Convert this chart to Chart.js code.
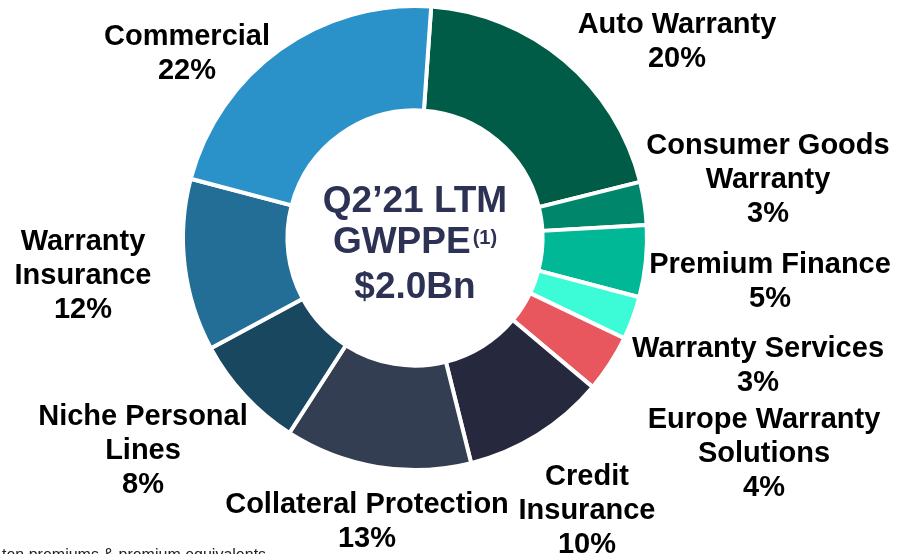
<!DOCTYPE html>
<html>
<head>
<meta charset="utf-8">
<script src="https://cdn.jsdelivr.net/npm/chart.js@4/dist/chart.umd.min.js"></script>
<style>
  body { margin: 0; background: #fff; }
  canvas { display: block; }
</style>
</head>
<body>
<canvas id="chart-gwppe" width="898" height="554"></canvas>
<script>
// segments, clockwise from the top
const segmentNames = [
  "Auto Warranty",
  "Consumer Goods\nWarranty",
  "Premium Finance",
  "Warranty Services",
  "Europe Warranty\nSolutions",
  "Credit\nInsurance",
  "Collateral Protection",
  "Niche Personal\nLines",
  "Warranty\nInsurance",
  "Commercial"
];
const segmentShares = [20, 3, 5, 3, 4, 10, 13, 8, 12, 22];
const segmentColors = [
  "#005c46", "#00876b", "#00b896", "#3cfbd7", "#e8575e",
  "#26283e", "#343e52", "#18475f", "#226e96", "#2a92c8"
];
const centerTitle = ["Q2\u201921 LTM", "GWPPE", "$2.0Bn"];
const footnote = "ten premiums & premium equivalents";

// label anchors relative to the doughnut centre (x centre, first baseline)
const labelAnchors = [
  [262, -205], [353, -84], [355, 35], [343, 119], [349, 190],
  [172, 247], [-48, 275], [-272, 187], [-332, 12], [-228, -193]
];

const labelFont = "bold 29px 'Liberation Sans', Arial, sans-serif";
const lineGap = 34;

const labelsPlugin = {
  id: "sliceLabels",
  afterDraw(chart) {
    const ctx = chart.ctx;
    const arc = chart.getDatasetMeta(0).data[0];
    const cx = arc.x;
    const cy = arc.y;

    ctx.save();
    ctx.fillStyle = "#000";
    ctx.font = labelFont;
    ctx.textAlign = "center";
    ctx.textBaseline = "alphabetic";
    segmentNames.forEach((name, i) => {
      const lines = name.split("\n").concat(segmentShares[i] + "%");
      const [dx, dy] = labelAnchors[i];
      lines.forEach((line, j) => {
        ctx.fillText(line, cx + dx, cy + dy + j * lineGap);
      });
    });

    // centre text
    ctx.fillStyle = "#2d3254";
    ctx.font = "bold 37px 'Liberation Sans', Arial, sans-serif";
    ctx.fillText(centerTitle[0], cx, cy - 26);
    ctx.fillText(centerTitle[2], cx, cy + 60);

    const mainW = ctx.measureText(centerTitle[1]).width;
    ctx.font = "bold 20px 'Liberation Sans', Arial, sans-serif";
    const supW = ctx.measureText("(1)").width;
    const startX = cx - (mainW + supW + 2) / 2;
    ctx.textAlign = "left";
    ctx.font = "bold 37px 'Liberation Sans', Arial, sans-serif";
    ctx.fillText(centerTitle[1], startX, cy + 15);
    ctx.font = "bold 20px 'Liberation Sans', Arial, sans-serif";
    ctx.fillText("(1)", startX + mainW + 2, cy + 6);

    // footnote, cut off by the page edge
    ctx.fillStyle = "#222";
    ctx.font = "16px 'Liberation Sans', Arial, sans-serif";
    ctx.fillText(footnote, 2, 560);
    ctx.restore();
  }
};

const chartCtx = document.getElementById("chart-gwppe").getContext("2d");

new Chart(chartCtx, {
  type: "doughnut",
  data: {
    labels: segmentNames,
    datasets: [
      {
        data: segmentShares,
        backgroundColor: segmentColors,
        borderColor: "#fff",
        borderWidth: 4,
      },
    ],
  },
  options: {
    responsive: false,
    animation: false,
    rotation: 4,
    cutout: "55%",
    layout: {
      padding: { left: 181, right: 249, top: 4, bottom: 82 },
    },
    plugins: {
      legend: { display: false },
      tooltip: { enabled: false },
    },
  },
  plugins: [labelsPlugin],
});
</script>
</body>
</html>
